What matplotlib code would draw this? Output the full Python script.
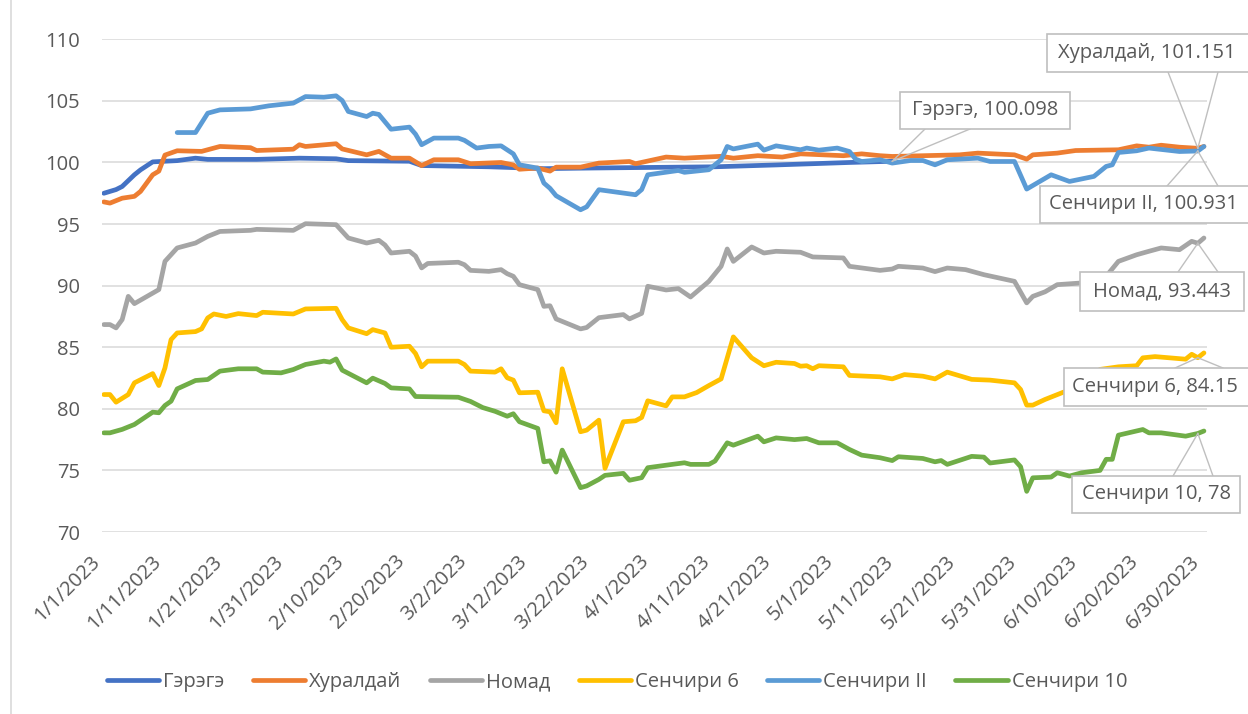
import matplotlib
matplotlib.use('Agg')
import matplotlib.pyplot as plt
import matplotlib.dates as mdates
import pandas as pd
from matplotlib.patches import Rectangle
from matplotlib.lines import Line2D

plt.rcParams['font.family'] = ['Open Sans', 'DejaVu Sans']

START = pd.Timestamp('2023-01-01')

# ---------------- data (day offset from 1/1/2023, index value) ----------------
gerege_days = [0, 2, 3, 5, 6, 8, 12, 15, 17, 25, 32, 38, 40, 50, 52, 63, 72, 80, 100, 110, 122, 129]
gerege_vals = [97.5, 97.8, 98.05, 99.0, 99.4, 100.05, 100.15, 100.35, 100.25, 100.25, 100.35, 100.3,
               100.15, 100.1, 99.75, 99.65, 99.5, 99.55, 99.65, 99.8, 100.0, 100.098]

khur_days = [0, 1, 3, 5, 6, 8, 9, 10, 12, 16, 19, 24, 25, 31, 32, 33, 38, 39, 43, 45, 47, 50, 52, 54,
             58, 60, 65, 67, 68, 71, 73, 74, 78, 81, 86, 87, 92, 95, 101, 103, 107, 111, 114, 121, 124,
             127, 129, 140, 143, 149, 151, 152, 156, 159, 166, 169, 171, 173, 176, 179, 180]
khur_vals = [96.8, 96.7, 97.1, 97.25, 97.65, 99.0, 99.3, 100.6, 100.95, 100.9, 101.3, 101.2, 100.97,
             101.08, 101.44, 101.3, 101.52, 101.1, 100.62, 100.9, 100.35, 100.35, 99.75, 100.22, 100.22,
             99.9, 100.0, 99.8, 99.45, 99.55, 99.3, 99.62, 99.62, 99.95, 100.08, 99.9, 100.44, 100.35,
             100.5, 100.35, 100.55, 100.44, 100.7, 100.55, 100.7, 100.55, 100.49, 100.62, 100.76, 100.62,
             100.27, 100.62, 100.76, 100.97, 101.03, 101.35, 101.24, 101.4, 101.24, 101.151, 101.3]

nomad_days = [0, 1, 2, 3, 4, 5, 9, 10, 12, 15, 17, 19, 24, 25, 31, 33, 38, 40, 43, 45, 46, 47, 50, 51,
              52, 53, 58, 59, 60, 63, 65, 66, 67, 68, 71, 72, 73, 74, 78, 79, 81, 85, 86, 88, 89, 92, 94,
              96, 99, 101, 102, 103, 106, 108, 110, 114, 116, 121, 122, 127, 129, 130, 134, 136, 138, 141,
              144, 149, 151, 152, 154, 156, 160, 164, 166, 169, 171, 173, 176, 178, 179, 180]
nomad_vals = [86.84, 86.84, 86.57, 87.25, 89.13, 88.54, 89.68, 91.97, 93.06, 93.46, 94.0, 94.4, 94.49,
              94.57, 94.49, 95.03, 94.95, 93.87, 93.46, 93.68, 93.3, 92.65, 92.79, 92.4, 91.44, 91.8,
              91.9, 91.7, 91.24, 91.16, 91.3, 90.97, 90.76, 90.08, 89.68, 88.32, 88.37, 87.3, 86.49,
              86.6, 87.4, 87.65, 87.3, 87.75, 89.95, 89.65, 89.76, 89.08, 90.35, 91.57, 92.98, 91.97,
              93.14, 92.65, 92.79, 92.71, 92.33, 92.25, 91.57, 91.24, 91.35, 91.57, 91.43, 91.14, 91.43,
              91.3, 90.89, 90.35, 88.6, 89.13, 89.5, 90.08, 90.22, 90.76, 91.97, 92.51, 92.79, 93.06,
              92.92, 93.6, 93.443, 93.87]

c6_days = [0, 1, 2, 4, 5, 8, 9, 10, 11, 12, 15, 16, 17, 18, 20, 22, 25, 26, 31, 33, 38, 39, 40, 43, 44,
           46, 47, 50, 51, 52, 53, 58, 59, 60, 64, 65, 66, 67, 68, 71, 72, 73, 74, 75, 78, 79, 81, 82,
           85, 87, 88, 89, 92, 93, 95, 97, 99, 101, 103, 106, 108, 110, 113, 114, 115, 116, 117, 121,
           122, 127, 129, 131, 134, 136, 138, 142, 145, 149, 150, 151, 152, 154, 157, 160, 163, 166,
           169, 170, 172, 177, 178, 179, 180]
c6_vals = [81.16, 81.16, 80.54, 81.16, 82.11, 82.86, 81.89, 83.32, 85.62, 86.16, 86.27, 86.49, 87.38,
           87.7, 87.5, 87.73, 87.57, 87.84, 87.7, 88.11, 88.16, 87.24, 86.57, 86.1, 86.43, 86.16, 85.0,
           85.08, 84.49, 83.41, 83.87, 83.87, 83.6, 83.06, 82.98, 83.25, 82.52, 82.33, 81.3, 81.35,
           79.84, 79.76, 78.87, 83.25, 78.14, 78.27, 79.08, 75.17, 78.95, 79.03, 79.3, 80.65, 80.24,
           80.97, 80.97, 81.32, 81.89, 82.43, 85.84, 84.14, 83.5, 83.78, 83.68, 83.46, 83.5, 83.25,
           83.5, 83.41, 82.71, 82.6, 82.43, 82.78, 82.65, 82.43, 82.98, 82.39, 82.33, 82.11, 81.57,
           80.3, 80.3, 80.76, 81.35, 81.6, 83.2, 83.41, 83.5, 84.14, 84.24, 84.03, 84.43, 84.15, 84.54]

c2_days = [12, 15, 17, 19, 24, 27, 31, 33, 36, 38, 39, 40, 43, 44, 45, 47, 50, 51, 52, 54, 58, 59, 61,
           63, 65, 67, 68, 71, 72, 73, 74, 78, 79, 81, 87, 88, 89, 94, 95, 99, 101, 102, 103, 107, 108,
           110, 114, 115, 117, 120, 122, 123, 124, 127, 129, 132, 134, 136, 138, 143, 145, 149, 151,
           155, 158, 162, 164, 165, 166, 169, 171, 176, 179, 180]
c2_vals = [102.43, 102.43, 104.0, 104.27, 104.35, 104.6, 104.82, 105.35, 105.3, 105.41, 105.03, 104.14,
           103.73, 104.0, 103.9, 102.7, 102.87, 102.3, 101.44, 101.98, 101.98, 101.8, 101.17, 101.3,
           101.35, 100.7, 99.81, 99.54, 98.33, 97.9, 97.3, 96.16, 96.4, 97.79, 97.38, 97.8, 99.0, 99.35,
           99.2, 99.41, 100.22, 101.3, 101.1, 101.49, 101.0, 101.35, 101.03, 101.17, 101.0, 101.17,
           100.89, 100.27, 100.08, 100.22, 99.95, 100.16, 100.16, 99.81, 100.22, 100.35, 100.08, 100.08,
           97.84, 99.0, 98.46, 98.87, 99.68, 99.81, 100.81, 100.95, 101.17, 100.89, 100.931, 101.3]

c10_days = [0, 1, 3, 5, 8, 9, 10, 11, 12, 15, 17, 19, 22, 25, 26, 29, 31, 33, 36, 37, 38, 39, 43, 44,
            46, 47, 50, 51, 58, 60, 62, 64, 66, 67, 68, 71, 72, 73, 74, 75, 78, 79, 81, 82, 85, 86, 88,
            89, 93, 95, 96, 99, 100, 102, 103, 107, 108, 110, 113, 115, 117, 120, 122, 124, 127, 129,
            130, 134, 136, 137, 138, 142, 144, 145, 149, 150, 151, 152, 155, 156, 158, 160, 163, 164,
            165, 166, 170, 171, 173, 177, 179, 180]
c10_vals = [78.05, 78.05, 78.33, 78.73, 79.73, 79.68, 80.27, 80.62, 81.62, 82.3, 82.38, 83.06, 83.25,
            83.25, 82.98, 82.92, 83.19, 83.6, 83.87, 83.79, 84.05, 83.14, 82.11, 82.49, 82.06, 81.7,
            81.62, 81.0, 80.94, 80.6, 80.1, 79.8, 79.4, 79.6, 78.95, 78.41, 75.7, 75.78, 74.86, 76.65,
            73.6, 73.74, 74.27, 74.6, 74.76, 74.2, 74.41, 75.22, 75.49, 75.62, 75.49, 75.49, 75.76,
            77.24, 77.05, 77.78, 77.32, 77.64, 77.5, 77.59, 77.24, 77.24, 76.7, 76.24, 76.03, 75.8,
            76.11, 75.97, 75.7, 75.8, 75.49, 76.14, 76.08, 75.6, 75.85, 75.3, 73.3, 74.4, 74.46, 74.81,
            74.54, 74.81, 75.0, 75.9, 75.9, 77.86, 78.32, 78.05, 78.05, 77.78, 78.0, 78.2]

series_names = ['Гэрэгэ', 'Хуралдай', 'Номад', 'Сенчири 6', 'Сенчири II', 'Сенчири 10']
series_days = [gerege_days, khur_days, nomad_days, c6_days, c2_days, c10_days]
series_vals = [gerege_vals, khur_vals, nomad_vals, c6_vals, c2_vals, c10_vals]
series_colors = ['#4472C4', '#ED7D31', '#A5A5A5', '#FFC000', '#5B9BD5', '#70AD47']

# data labels: series index, day offset of labelled point
label_series = [0, 1, 4, 2, 3, 5]
label_days = [129, 179, 179, 179, 179, 179]

y_ticks = [70, 75, 80, 85, 90, 95, 100, 105, 110]
x_tick_days = list(range(0, 181, 10))

# ---------------- figure ----------------
W, H = 1248, 714
fig = plt.figure(figsize=(W / 100, H / 100), dpi=100)
ax = fig.add_axes([102 / W, 1 - 532 / H, (1207 - 102) / W, (532 - 39.3) / H])

def to_dates(days):
    return START + pd.to_timedelta(days, unit='D')

handles = []
for name, d, v, c in zip(series_names, series_days, series_vals, series_colors):
    ln, = ax.plot(to_dates(d), v, color=c, lw=3.4, solid_joinstyle='round',
                  solid_capstyle='round', label=name, zorder=3)
    handles.append(ln)

ax.set_xlim(mdates.date2num(START) - 0.3, mdates.date2num(START) + 180.5)
ax.set_ylim(70, 110)
ax.set_yticks(y_ticks)
ax.set_yticklabels([str(t) for t in y_ticks])
xt = to_dates(x_tick_days)
ax.set_xticks(xt)
ax.set_xticklabels([f"{t.month}/{t.day}/{t.year}" for t in xt], rotation=45, ha='right', va='top')
ax.tick_params(axis='x', length=0, pad=14, labelsize=14.5, labelcolor='#595959')
ax.tick_params(axis='y', length=0, pad=16, labelsize=14.5, labelcolor='#595959')
ax.grid(axis='y', color='#d9d9d9', lw=1.1)
ax.set_axisbelow(True)
for s in ax.spines.values():
    s.set_visible(False)

# left chart border
fig.add_artist(Line2D([11 / W, 11 / W], [0, 1], color='#d9d9d9', lw=1.2))

# ---------------- data label callouts ----------------
def px(x, y):
    return (x / W, 1 - y / H)

# box (x0, y0, x1, y1) in pixels from top-left, wedge base x positions, base on 'bottom' or 'top'
boxes = [
    ((900, 92, 1070, 129), (925, 970), 'bottom'),
    ((1047, 34, 1256, 72), (1168, 1218), 'bottom'),
    ((1040, 186, 1256, 223), (1167, 1218), 'top'),
    ((1080, 272, 1244, 311), (1178, 1218), 'top'),
    ((1064, 368, 1256, 406), (1175, 1223), 'top'),
    ((1072, 476, 1240, 513), (1173, 1213), 'top'),
]

inv = fig.transFigure.inverted()
for si, dday, (box, wx, side) in zip(label_series, label_days, boxes):
    idx = series_days[si].index(dday)
    val = series_vals[si][idx]
    pt = ax.transData.transform((mdates.date2num(to_dates([dday])[0]), val))
    pf = inv.transform(pt)
    x0, y0, x1, y1 = box
    by = y1 if side == 'bottom' else y0
    for bx in wx:
        bf = px(bx, by)
        fig.add_artist(Line2D([pf[0], bf[0]], [pf[1], bf[1]], color='#bfbfbf', lw=1.0, zorder=5))
    ll = px(x0, y1)
    rect = Rectangle(ll, (x1 - x0) / W, (y1 - y0) / H, transform=fig.transFigure,
                     facecolor='white', edgecolor='#bfbfbf', lw=1.2, zorder=6)
    fig.add_artist(rect)
    right = min(x1, 1246)
    cx, cy = px((x0 + right) / 2, (y0 + y1) / 2)
    fig.text(cx, cy, f"{series_names[si]}, {val:g}", ha='center', va='center',
             fontsize=14.5, color='#595959', zorder=7)

# ---------------- legend ----------------
fig.legend(handles=handles, labels=series_names, loc='center', ncol=6,
           bbox_to_anchor=(617 / W, 1 - 682 / H), frameon=False, fontsize=14.5,
           handlelength=2.6, handletextpad=0.2, columnspacing=1.4, labelcolor='#595959')

fig.savefig('out.png', dpi=100)
